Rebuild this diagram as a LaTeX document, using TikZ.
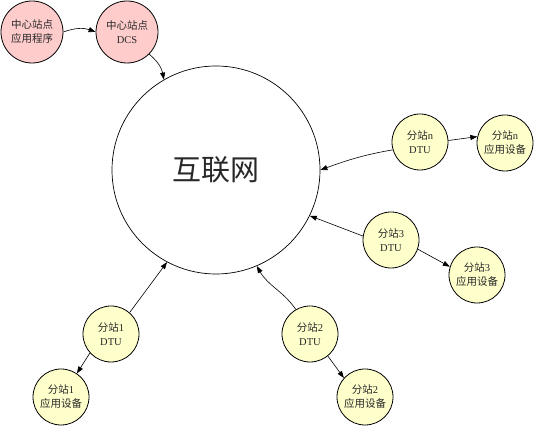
\documentclass[tikz,border=0pt]{standalone}
\usepackage{fontspec}
\setmainfont{Noto Sans CJK SC}
\newfontfamily\latfont{Liberation Serif}
\newcommand\latn[1]{{\latfont\fontsize{10.5}{14}\selectfont #1}}
\usetikzlibrary{arrows.meta}
\definecolor{pinkfill}{RGB}{255,204,204}
\definecolor{yelfill}{RGB}{255,255,204}
\definecolor{txt}{RGB}{40,40,40}
\begin{document}
\begin{tikzpicture}[x=1pt,y=1pt,
  stn/.style={circle, draw=black, line width=0.8pt, fill=yelfill, minimum size=56pt,
    inner sep=0pt, align=center, text=txt, font=\fontsize{10.5}{14}\selectfont},
  ctr/.style={stn, fill=pinkfill, minimum size=62pt},
  netc/.style={circle, draw=black, line width=0.7pt, minimum size=208pt, inner sep=0pt,
    text=txt, font=\fontsize{29}{32}\selectfont},
  conn/.style={-{Triangle[length=7pt,width=5pt]}, line width=0.6pt},
]
\useasboundingbox (0,0) rectangle (534,427);
\node[ctr] (app0) at (32,395) {中心站点\\应用程序};
\node[ctr] (dcs) at (127,395) {中心站点\\\latn{DCS}};
\node[netc] (net) at (216,257) {互联网};
\node[stn] (ndtu) at (420,285) {分站\latn{n}\\\latn{DTU}};
\node[stn] (napp) at (505,284) {分站\latn{n}\\应用设备};
\node[stn] (d3) at (391,187) {分站\latn{3}\\\latn{DTU}};
\node[stn] (a3) at (477,152) {分站\latn{3}\\应用设备};
\node[stn] (d1) at (111,93) {分站\latn{1}\\\latn{DTU}};
\node[stn] (a1) at (61,30) {分站\latn{1}\\应用设备};
\node[stn] (d2) at (310,93) {分站\latn{2}\\\latn{DTU}};
\node[stn] (a2) at (365,30) {分站\latn{2}\\应用设备};

\draw[conn] (app0.0) to[out=20,in=160] (dcs.180);
\draw[conn] (dcs.-45) to[out=-40,in=100] (net.120);
\draw[conn] (ndtu.196) to[out=190,in=20] (net.0);
\draw[conn] (ndtu.3) -- (napp.167);
\draw[conn] (d3.172) -- (net.-26);
\draw[conn] (d3.-19) -- (a3.163);
\draw[conn] (d1.49) -- (net.242);
\draw[conn] (d1.222) -- (a1.56);
\draw[conn] (d2.120) to[out=125,in=-60] (net.-67);
\draw[conn] (d2.-51) -- (a2.138);
\end{tikzpicture}
\end{document}
